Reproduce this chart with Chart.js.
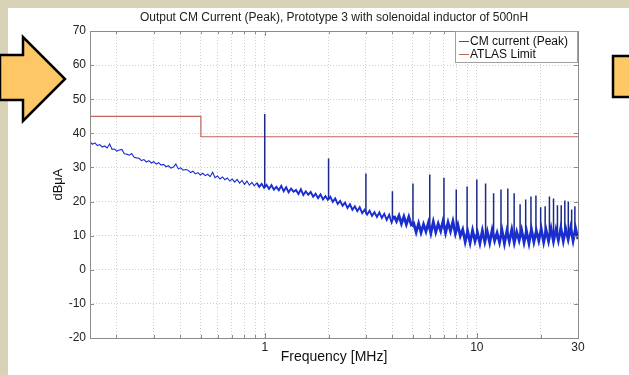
<!DOCTYPE html>
<html>
<head>
<meta charset="utf-8">
<script src="https://cdn.jsdelivr.net/npm/chart.js@4.4.0/dist/chart.umd.min.js"></script>
<style>
  html, body { margin: 0; padding: 0; width: 629px; height: 375px; overflow: hidden; background: #d8d2b6; }
  #panel { position: absolute; left: 8px; top: 8px; right: 0; bottom: 0; background: #fff; }
  #wrap { position: absolute; left: 0; top: 0; width: 629px; height: 375px; }
  #deco { position: absolute; left: 0; top: 0; }
</style>
</head>
<body>
<div id="panel"></div>
<div id="wrap"><canvas id="emcChart" width="629" height="375"></canvas></div>
<svg id="deco" width="629" height="375">
  <polygon points="0,55 23,55 23,37 65,79 23,121 23,100 0,100" fill="#fdc765" stroke="#000" stroke-width="2.5" stroke-linejoin="miter"/>
  <rect x="613" y="56" width="30" height="41" fill="#fdc765" stroke="#000" stroke-width="2.5"/>
</svg>
<script>
// --- DONNEES ---
const chartTitle = 'Output CM Current (Peak), Prototype 3 with solenoidal inductor of 500nH';
const sweepStart = 0.15;   // MHz
const sweepStop = 30;      // MHz

// CM current (Peak), dBuA, points du balayage
const cmPeak = [
  37.5, 36.8, 37.2, 36.4, 36.7, 36.0, 36.3, 35.7, 36.9, 35.3,
  35.4, 34.8, 35.1, 35.3, 34.0, 33.9, 33.6, 34.1, 33.0, 32.8,
  32.7, 32.0, 32.3, 31.6, 32.0, 31.3, 31.7, 31.0, 31.4, 30.7,
  30.9, 30.2, 30.5, 29.8, 30.1, 31.0, 29.6, 29.9, 29.2, 29.4,
  29.2, 28.5, 28.9, 28.1, 28.5, 27.8, 28.3, 27.6, 28.0, 27.3,
  28.6, 27.0, 27.5, 26.6, 27.2, 26.4, 26.9, 26.0, 26.6, 25.7,
  26.5, 25.4, 26.2, 25.0, 26.0, 24.8, 25.6, 24.6, 25.5, 24.3,
  25.2, 24.0, 24.9, 23.7, 24.8, 23.5, 24.3, 23.3, 24.6, 23.0,
  24.2, 22.7, 23.8, 22.9, 23.4, 22.2, 23.6, 21.9, 23.0, 22.0,
  22.8, 21.4, 22.3, 21.0, 22.1, 20.6, 21.6, 20.5, 21.4, 19.9,
  20.9, 19.3, 20.2, 18.8, 19.7, 18.1, 19.2, 17.6, 18.6, 17.2,
  18.3, 16.6, 17.6, 16.2, 17.3, 15.8, 16.9, 15.5, 16.8, 15.2,
  16.4, 14.6, 16.1, 13.9, 15.8, 14.2, 15.9, 13.5, 15.6, 13.3,
  15.5, 13.2, 13.7, 11.0, 13.6, 10.9, 13.3, 11.2, 13.8, 10.7,
  14.1, 11.0, 13.5, 11.4, 14.4, 10.8, 13.9, 11.3, 14.2, 10.6,
  13.2, 9.9, 11.8, 8.2, 11.3, 7.9, 11.6, 8.4, 10.9, 7.8,
  11.5, 8.1, 11.2, 7.9, 11.7, 8.5, 10.8, 8.0, 11.6, 7.7,
  11.4, 8.3, 11.8, 7.9, 11.1, 8.6, 11.7, 8.0, 11.3, 7.8,
  11.9, 8.2, 11.4, 8.5, 12.0, 8.1, 11.6, 8.4, 12.1, 8.3,
  11.8, 8.6, 12.3, 8.4, 12.0, 8.9, 12.4, 8.5, 12.2, 9.0
];

// Raies harmoniques (MHz) : sommet et pied
const spikeFreqs = [1, 2, 3, 4, 5, 6, 7, 8, 9, 10, 11, 12, 13, 14, 15, 16, 17, 18, 19, 20, 21, 22, 23, 24, 25, 26, 27, 28, 29];
const spikeTops  = [45.7, 32.6, 28.2, 23.0, 25.3, 27.9, 27.0, 23.5, 24.4, 26.5, 25.3, 22.4, 23.5, 23.8, 22.4,
                    19.2, 20.6, 21.5, 21.8, 18.3, 18.6, 21.5, 20.9, 18.9, 18.9, 20.3, 20.0, 17.7, 18.6];
const spikeBase  = [24.5, 20.5, 16.5, 15.0, 12.5, 12.0, 12.0, 12.0, 10.5, 10.0, 10.0, 10.0, 10.0, 10.0, 10.0,
                    10.0, 10.0, 10.0, 10.0, 10.0, 10.0, 10.0, 10.0, 10.0, 10.0, 10.0, 10.0, 10.0, 10.0];

// ATLAS Limit
const limitFreqs  = [0.15, 0.5, 0.5, 30];
const limitLevels = [45, 45, 39, 39];

// Axes
const xGridTicks = [0.2, 0.3, 0.4, 0.5, 0.6, 0.7, 0.8, 0.9, 1, 2, 3, 4, 5, 6, 7, 8, 9, 10, 20, 30];
const xLabelTicks = [1, 10, 30];
const yMin = -20, yMax = 70, yStep = 10;

const FONT = "'Liberation Sans', Arial, sans-serif";
const CM_COLOR = '#1a2ed0';
const LIMIT_COLOR = '#c0655c';

// --- CONSTRUCTION DES SERIES ---
const sweepFreqs = cmPeak.map((_, i) => sweepStart * Math.pow(sweepStop / sweepStart, i / (cmPeak.length - 1)));
const cmData = cmPeak.map((v, i) => ({ x: sweepFreqs[i], y: v }));

const spikeData = [];
spikeFreqs.forEach((f, i) => {
    spikeData.push({ x: f, y: spikeBase[i] });
    spikeData.push({ x: f, y: spikeTops[i] });
    spikeData.push({ x: f, y: null });
});

const limitData = limitFreqs.map((f, i) => ({ x: f, y: limitLevels[i] }));

// --- PLUGIN : titre centré sur la zone du graphe, cadre, graduations internes, légende ---
const framePlugin = {
    id: 'frame',
    afterDraw(chart) {
        const { ctx, chartArea: a, scales } = chart;
        ctx.save();

        // titre
        ctx.font = '12px ' + FONT;
        ctx.fillStyle = '#222';
        ctx.textAlign = 'center';
        ctx.textBaseline = 'middle';
        ctx.fillText(chartTitle, (a.left + a.right) / 2, 18);

        ctx.strokeStyle = '#8c8c8c';
        ctx.lineWidth = 1;
        ctx.strokeRect(a.left + 0.5, a.top + 0.5, a.right - a.left, a.bottom - a.top);

        // graduations vers l'intérieur
        ctx.beginPath();
        scales.y.ticks.forEach(t => {
            const y = Math.round(scales.y.getPixelForValue(t.value)) + 0.5;
            ctx.moveTo(a.left, y); ctx.lineTo(a.left + 4, y);
            ctx.moveTo(a.right, y); ctx.lineTo(a.right - 4, y);
        });
        scales.x.ticks.forEach(t => {
            const x = Math.round(scales.x.getPixelForValue(t.value)) + 0.5;
            const len = xLabelTicks.includes(t.value) ? 5 : 3;
            ctx.moveTo(x, a.bottom); ctx.lineTo(x, a.bottom - len);
            ctx.moveTo(x, a.top); ctx.lineTo(x, a.top + len);
        });
        ctx.stroke();

        // légende
        const bx = a.right - 123, by = a.top, bw = 122, bh = 31;
        ctx.fillStyle = '#fff';
        ctx.fillRect(bx, by, bw, bh);
        ctx.strokeStyle = '#a0a0a0';
        ctx.strokeRect(bx + 0.5, by + 0.5, bw, bh);
        const entries = chart.data.datasets.filter(d => d.label);
        ctx.font = '12px ' + FONT;
        ctx.textAlign = 'left';
        entries.forEach((d, i) => {
            const y = by + 10 + i * 13;
            ctx.strokeStyle = d.legendColor || d.borderColor;
            ctx.lineWidth = 1;
            ctx.beginPath();
            ctx.moveTo(bx + 4, y + 0.5); ctx.lineTo(bx + 14, y + 0.5);
            ctx.stroke();
            ctx.fillStyle = '#111';
            ctx.fillText(d.label, bx + 15, y + 1);
        });
        ctx.restore();
    }
};

// --- GRAPHIQUE ---
const ctx = document.getElementById('emcChart').getContext('2d');
new Chart(ctx, {
    type: 'line',
    data: {
        datasets: [
            {
                label: 'CM current (Peak)', data: cmData, borderColor: CM_COLOR, legendColor: '#3c4a9a',
                borderWidth: 1, pointRadius: 0, tension: 0,
                // trace plus épaisse là où le bruit est dense
                segment: { borderWidth: c => c.p0.parsed.x > 4 ? 2.8 : (c.p0.parsed.x > 0.9 ? 1.9 : 1.1) }
            },
            { label: '', data: spikeData, borderColor: '#1b2a8a', borderWidth: 1.5, pointRadius: 0, tension: 0, spanGaps: false },
            { label: 'ATLAS Limit', data: limitData, borderColor: LIMIT_COLOR, borderWidth: 1.2, pointRadius: 0, tension: 0 }
        ]
    },
    options: {
        responsive: false,
        animation: false,
        events: [],
        layout: { padding: { left: 0, right: 51, top: 31, bottom: 0 } },
        plugins: {
            legend: { display: false },
            tooltip: { enabled: false },
            title: { display: false }
        },
        scales: {
            x: {
                type: 'logarithmic',
                min: sweepStart,
                max: sweepStop,
                afterBuildTicks: s => { s.ticks = xGridTicks.map(v => ({ value: v })); },
                afterFit: s => { s.height = 37; },
                ticks: {
                    autoSkip: false,
                    maxRotation: 0,
                    padding: 2,
                    color: '#222',
                    font: { family: FONT, size: 12 },
                    callback: v => xLabelTicks.includes(v) ? String(v) : ''
                },
                grid: { color: '#cfcfcf', drawTicks: false, lineWidth: 1 },
                border: { display: false, dash: [1, 2] },
                title: {
                    display: true,
                    text: 'Frequency [MHz]',
                    color: '#111',
                    font: { family: FONT, size: 14 },
                    padding: { top: 0, bottom: 9 }
                }
            },
            y: {
                min: yMin,
                max: yMax,
                afterFit: s => { s.width = 90; },
                ticks: {
                    stepSize: yStep,
                    padding: 4,
                    color: '#222',
                    font: { family: FONT, size: 12 }
                },
                grid: { color: '#cfcfcf', drawTicks: false, lineWidth: 1 },
                border: { display: false, dash: [1, 2] },
                title: {
                    display: true,
                    text: 'dBμA',
                    color: '#111',
                    font: { family: FONT, size: 13 },
                    padding: { top: 51, bottom: 0 }
                }
            }
        }
    },
    plugins: [framePlugin]
});
</script>
</body>
</html>
